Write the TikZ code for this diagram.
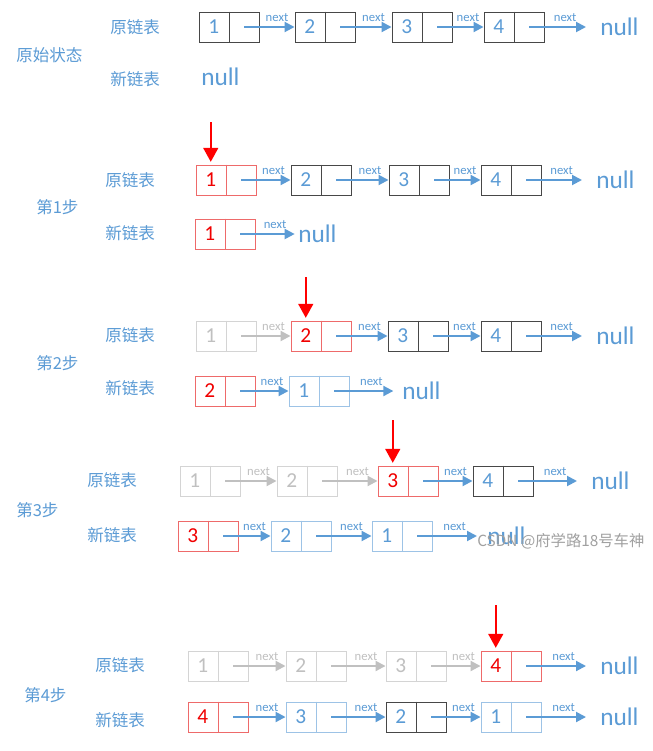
\documentclass[tikz,border=0pt]{standalone}
\usepackage{fontspec}
\setmainfont{Carlito}
\newfontfamily\cjk{Noto Sans CJK SC}
\usetikzlibrary{arrows.meta,calc}
\definecolor{myblue}{HTML}{5B9BD5}
\definecolor{lblue}{HTML}{9DC3E6}
\definecolor{klinec}{HTML}{474747}
\definecolor{rlinec}{HTML}{EE6A6A}
\definecolor{rtext}{HTML}{F00000}
\definecolor{glinec}{HTML}{D4D4D4}
\definecolor{gtext}{HTML}{C0C0C0}
\definecolor{wmc}{HTML}{A0A0A0}
\tikzset{
 lkcell/.style={minimum width=45pt, minimum height=22.5pt, inner sep=0pt, line width=0.7pt},
 kline/.style={draw=klinec},
 rline/.style={draw=rlinec},
 gline/.style={draw=glinec},
 bline/.style={draw=lblue},
 numtxt/.style={font=\fontsize{16}{18}\selectfont, inner sep=0pt},
 knum/.style={text=myblue}, bnum/.style={text=myblue},
 rnum/.style={text=rtext}, gnum/.style={text=gtext},
 lkarr/.style={line width=1.5pt, -{Triangle[length=7.5pt,width=7.5pt]}},
 barr/.style={color=myblue}, garr/.style={color=gtext},
 nextlbl/.style={font=\fontsize{9.5}{11}\selectfont, inner sep=0pt},
 blbl/.style={text=myblue}, glbl/.style={text=gtext},
 nulltxt/.style={font=\fontsize{19}{22}\selectfont, text=myblue, inner sep=0pt, anchor=west},
 cnlbl/.style={font=\cjk\fontsize{12.4}{14}\selectfont, text=myblue, inner sep=0pt, anchor=west},
 redarr/.style={draw=red, line width=1.8pt, shorten >=2pt, -{Triangle[length=10.5pt,width=11pt]}},
 wmark/.style={font=\cjk\fontsize{11.5}{13}\selectfont, text=wmc, inner sep=0pt, anchor=west},
}
\newcommand\lkbox[5]{%
 \node[lkcell,#5line] (#1) at ({#2+30},#3) {};
 \draw[#5line, line width=0.7pt] (#1.north) -- (#1.south);
 \node[numtxt,#5num] (#1v) at ($(#1.west)!0.25!(#1.east)$) {#4};
}
\newcommand\lklink[3]{%
 \draw[lkarr,#3arr] ($(#1.west)!0.75!(#1.east)$) -- (#2.west);
 \node[nextlbl,#3lbl] (#1n) at ($(#1.east)!0.5!(#2.west)+(0,-9)$) {next};
}
\newcommand\lknull[6]{%
 \node[nulltxt] (#2) at (#3,#4) {null};
 \coordinate (#2e) at ([xshift=-#5]#2.west);
 \draw[lkarr,#6arr] ($(#1.west)!0.75!(#1.east)$) -- (#2e);
 \node[nextlbl,#6lbl] (#2l) at ($(#1.east)!0.5!(#2e)+(0,-9)$) {next};
}
\begin{document}
\begin{tikzpicture}[x=0.75pt,y=-0.75pt]
\fill[white] (0,0) rectangle (653,751);
\useasboundingbox (0,0) rectangle (653,751);

% ---------- original state
\node[cnlbl] (t0) at (16,55) {原始状态};
\node[cnlbl] (o0) at (110,27) {原链表};
\node[cnlbl] (n0) at (110,79) {新链表};
\lkbox{a1}{199}{27}{1}{k}
\lkbox{a2}{295}{27}{2}{k}
\lkbox{a3}{392}{27}{3}{k}
\lkbox{a4}{484}{27}{4}{k}
\lklink{a1}{a2}{b}
\lklink{a2}{a3}{b}
\lklink{a3}{a4}{b}
\lknull{a4}{an}{600}{27}{10.5pt}{b}
\node[nulltxt] (a0n) at (201,77) {null};

% ---------- step 1
\node[cnlbl] (t1) at (36,207) {第1步};
\node[cnlbl] (o1) at (105,180) {原链表};
\node[cnlbl] (n1) at (105,233) {新链表};
\lkbox{b1}{196}{180}{1}{r}
\lkbox{b2}{291}{180}{2}{k}
\lkbox{b3}{389}{180}{3}{k}
\lkbox{b4}{481}{180}{4}{k}
\lklink{b1}{b2}{b}
\lklink{b2}{b3}{b}
\lklink{b3}{b4}{b}
\lknull{b4}{bn}{596}{180}{10.5pt}{b}
\lkbox{c1}{195}{234}{1}{r}
\lknull{c1}{cn}{298}{234}{2.5pt}{b}
\coordinate (r1) at (211,122);
\draw[redarr] (b1v |- r1) -- (b1v |- b1.north);

% ---------- step 2
\node[cnlbl] (t2) at (36,363) {第2步};
\node[cnlbl] (o2) at (105,335) {原链表};
\node[cnlbl] (n2) at (105,388) {新链表};
\lkbox{d1}{196}{336}{1}{g}
\lkbox{d2}{291}{336}{2}{r}
\lkbox{d3}{388}{336}{3}{k}
\lkbox{d4}{481}{336}{4}{k}
\lklink{d1}{d2}{g}
\lklink{d2}{d3}{b}
\lklink{d3}{d4}{b}
\lknull{d4}{dn}{596}{336}{10.5pt}{b}
\lkbox{e1}{195}{391}{2}{r}
\lkbox{e2}{289}{391}{1}{b}
\lklink{e1}{e2}{b}
\lknull{e2}{en}{402}{391}{6.5pt}{b}
\coordinate (r2) at (307,277);
\draw[redarr] (d2v |- r2) -- (d2v |- d2.north);

% ---------- step 3
\node[cnlbl] (t3) at (16,510) {第3步};
\node[cnlbl] (o3) at (87,480) {原链表};
\node[cnlbl] (n3) at (87,535) {新链表};
\lkbox{f1}{180}{481}{1}{g}
\lkbox{f2}{277}{481}{2}{g}
\lkbox{f3}{378}{481}{3}{r}
\lkbox{f4}{473}{481}{4}{k}
\lklink{f1}{f2}{g}
\lklink{f2}{f3}{g}
\lklink{f3}{f4}{b}
\lknull{f4}{fn}{591}{481}{10.5pt}{b}
\lkbox{h1}{178}{536}{3}{r}
\lkbox{h2}{271}{536}{2}{b}
\lkbox{h3}{372}{536}{1}{b}
\lklink{h1}{h2}{b}
\lklink{h2}{h3}{b}
\lknull{h3}{hn}{487}{536}{7.5pt}{b}
\coordinate (r3) at (393,420);
\draw[redarr] (f3v |- r3) -- (f3v |- f3.north);
\node[wmark] (wm) at (477,541) {CSDN @府学路18号车神};

% ---------- step 4
\node[cnlbl] (t4) at (24,695) {第4步};
\node[cnlbl] (o4) at (95,665) {原链表};
\node[cnlbl] (n4) at (95,720) {新链表};
\lkbox{i1}{188}{666}{1}{g}
\lkbox{i2}{286}{666}{2}{g}
\lkbox{i3}{386}{666}{3}{g}
\lkbox{i4}{481}{666}{4}{r}
\lklink{i1}{i2}{g}
\lklink{i2}{i3}{g}
\lklink{i3}{i4}{g}
\lknull{i4}{in}{600}{666}{10.5pt}{b}
\lkbox{j1}{188}{717}{4}{r}
\lkbox{j2}{286}{717}{3}{b}
\lkbox{j3}{386}{717}{2}{k}
\lkbox{j4}{481}{717}{1}{b}
\lklink{j1}{j2}{b}
\lklink{j2}{j3}{b}
\lklink{j3}{j4}{b}
\lknull{j4}{jn}{600}{717}{10.5pt}{b}
\coordinate (r4) at (496,605);
\draw[redarr] (i4v |- r4) -- (i4v |- i4.north);
\end{tikzpicture}
\end{document}
